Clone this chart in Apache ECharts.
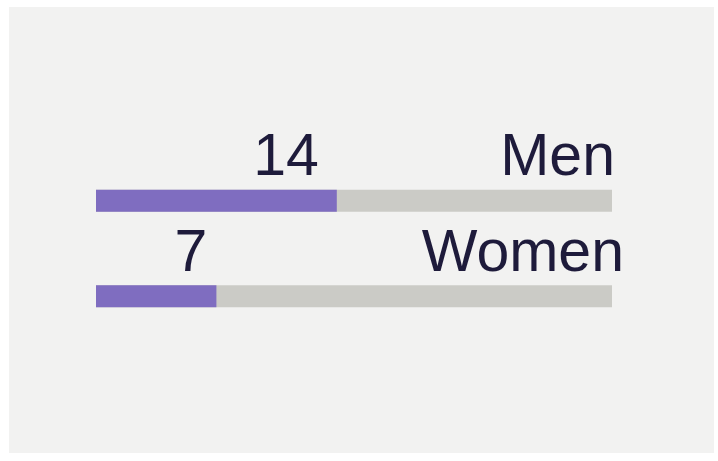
<!DOCTYPE html>
<html>
<head>
<meta charset="utf-8">
<script src="https://cdn.jsdelivr.net/npm/echarts@6/dist/echarts.min.js"></script>
<style>
    html,body{margin:0;padding:0;background:#ffffff;}
    #main{position:absolute;left:9px;top:7px;width:705px;height:446px;}
</style>
</head>
<body>
<div id="main"></div>
<script>
    //--------------------数据---------------------------
    var categories = ['Men', 'Women'];     //分类
    var values = [14, 7];                  //人数
    var total = 30;                        //满格
    //--------------------数据---------------------------

    var valueShift = [-18, -9];            //数字右移
    var nameShift = [3, 12];               //名字右移

    var textStyle = {
        fontFamily: 'Liberation Sans, Arial, sans-serif',
        fontSize: 59,
        color: '#1e1b3b'
    };

    var myChart = echarts.init(document.getElementById('main'));

    var barData = values.map(function (v, i) {
        return {
            value: v,
            label: {offset: [valueShift[i], -31]}
        };
    });
    var trackData = categories.map(function (name, i) {
        return {
            value: total,
            label: {offset: [nameShift[i], -31]}
        };
    });

    var option = {
        backgroundColor: '#f2f2f1',
        animation: false,
        grid: {
            left: 87,
            right: 102,
            top: 146,
            height: 191
        },
        xAxis: {
            type: 'value',
            min: 0,
            max: total,
            show: false
        },
        yAxis: {
            type: 'category',
            inverse: true,
            data: categories,
            show: false
        },
        series: [
            {
                name: 'track',
                type: 'bar',
                data: trackData,
                barWidth: 22,
                barGap: '-100%',
                silent: true,
                itemStyle: {color: '#cbcbc6'},
                label: {
                    show: true,
                    position: ['100%', 0],
                    align: 'right',
                    verticalAlign: 'middle',
                    formatter: function (p) { return p.name; },
                    fontFamily: textStyle.fontFamily,
                    fontSize: textStyle.fontSize,
                    color: textStyle.color
                }
            },
            {
                name: 'value',
                type: 'bar',
                data: barData,
                barWidth: 22,
                barGap: '-100%',
                itemStyle: {color: '#7f6dc0'},
                label: {
                    show: true,
                    position: ['100%', 0],
                    align: 'right',
                    verticalAlign: 'middle',
                    formatter: '{c}',
                    fontFamily: textStyle.fontFamily,
                    fontSize: textStyle.fontSize,
                    color: textStyle.color
                }
            }
        ]
    };
    myChart.setOption(option);
</script>
</body>
</html>
